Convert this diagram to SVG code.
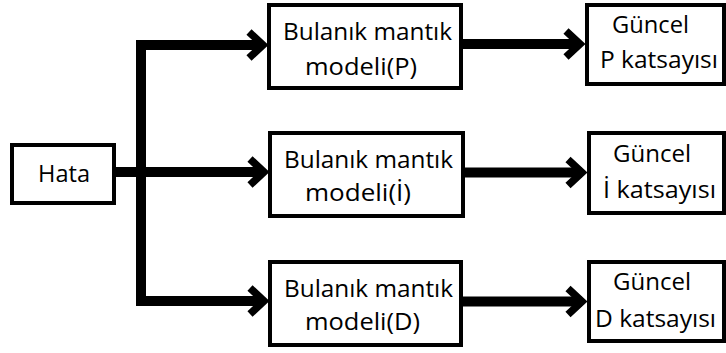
<svg xmlns="http://www.w3.org/2000/svg" width="726" height="353" viewBox="0 0 726 353">
<style>
.box{fill:#fff;stroke:#000;stroke-width:4}
.t{font-family:"Open Sans","Noto Sans",sans-serif;font-size:24px;fill:#000}
.ln{fill:none;stroke:#000;stroke-width:10;stroke-linejoin:miter}
.hd{fill:none;stroke:#000;stroke-width:7.5;stroke-linejoin:miter;stroke-miterlimit:10}
</style>
<rect width="726" height="353" fill="#fff"/>
<g id="connectors">
<path class="ln" d="M262 45 H141 V301 H262"/>
<path class="ln" d="M116 172 H262"/>
<polyline class="hd" points="249,32 263,45 249,58"/>
<polyline class="hd" points="250,159 264,172 250,185"/>
<polyline class="hd" points="250,288 264,301 250,314"/>
<path class="ln" d="M463 44 H580"/>
<path class="ln" d="M465 172.5 H582"/>
<path class="ln" d="M463 301.5 H582"/>
<polyline class="hd" points="566,31 580,44 566,57"/>
<polyline class="hd" points="568,159.5 582,172.5 568,185.5"/>
<polyline class="hd" points="568,288.5 582,301.5 568,314.5"/>
</g>
<g id="hata">
<rect class="box" x="12" y="145" width="102" height="58"/>
<text class="t" x="38" y="182" textLength="52" lengthAdjust="spacingAndGlyphs">Hata</text>
</g>
<g id="modelP">
<rect class="box" x="269" y="5" width="192" height="83"/>
<text class="t" x="283" y="40" textLength="169" lengthAdjust="spacingAndGlyphs">Bulanık mantık</text>
<text class="t" x="305" y="75" textLength="112" lengthAdjust="spacingAndGlyphs">modeli(P)</text>
</g>
<g id="modelI">
<rect class="box" x="270" y="133" width="193" height="83"/>
<text class="t" x="284" y="168" textLength="169" lengthAdjust="spacingAndGlyphs">Bulanık mantık</text>
<text class="t" x="305" y="201" textLength="106" lengthAdjust="spacingAndGlyphs">modeli(İ)</text>
</g>
<g id="modelD">
<rect class="box" x="270" y="262" width="191" height="83"/>
<text class="t" x="284" y="297" textLength="169" lengthAdjust="spacingAndGlyphs">Bulanık mantık</text>
<text class="t" x="305" y="330" textLength="115" lengthAdjust="spacingAndGlyphs">modeli(D)</text>
</g>
<g id="guncelP">
<rect class="box" x="587" y="5" width="137" height="79"/>
<text class="t" x="612" y="33" textLength="77" lengthAdjust="spacingAndGlyphs">Güncel</text>
<text class="t" x="600" y="68" textLength="118" lengthAdjust="spacingAndGlyphs">P katsayısı</text>
</g>
<g id="guncelI">
<rect class="box" x="589" y="133" width="135" height="80"/>
<text class="t" x="613" y="162" textLength="78" lengthAdjust="spacingAndGlyphs">Güncel</text>
<text class="t" x="603" y="198" textLength="113" lengthAdjust="spacingAndGlyphs">İ  katsayısı</text>
</g>
<g id="guncelD">
<rect class="box" x="589" y="262" width="135" height="79"/>
<text class="t" x="613" y="290" textLength="78" lengthAdjust="spacingAndGlyphs">Güncel</text>
<text class="t" x="595" y="327" textLength="121" lengthAdjust="spacingAndGlyphs">D katsayısı</text>
</g>
</svg>
